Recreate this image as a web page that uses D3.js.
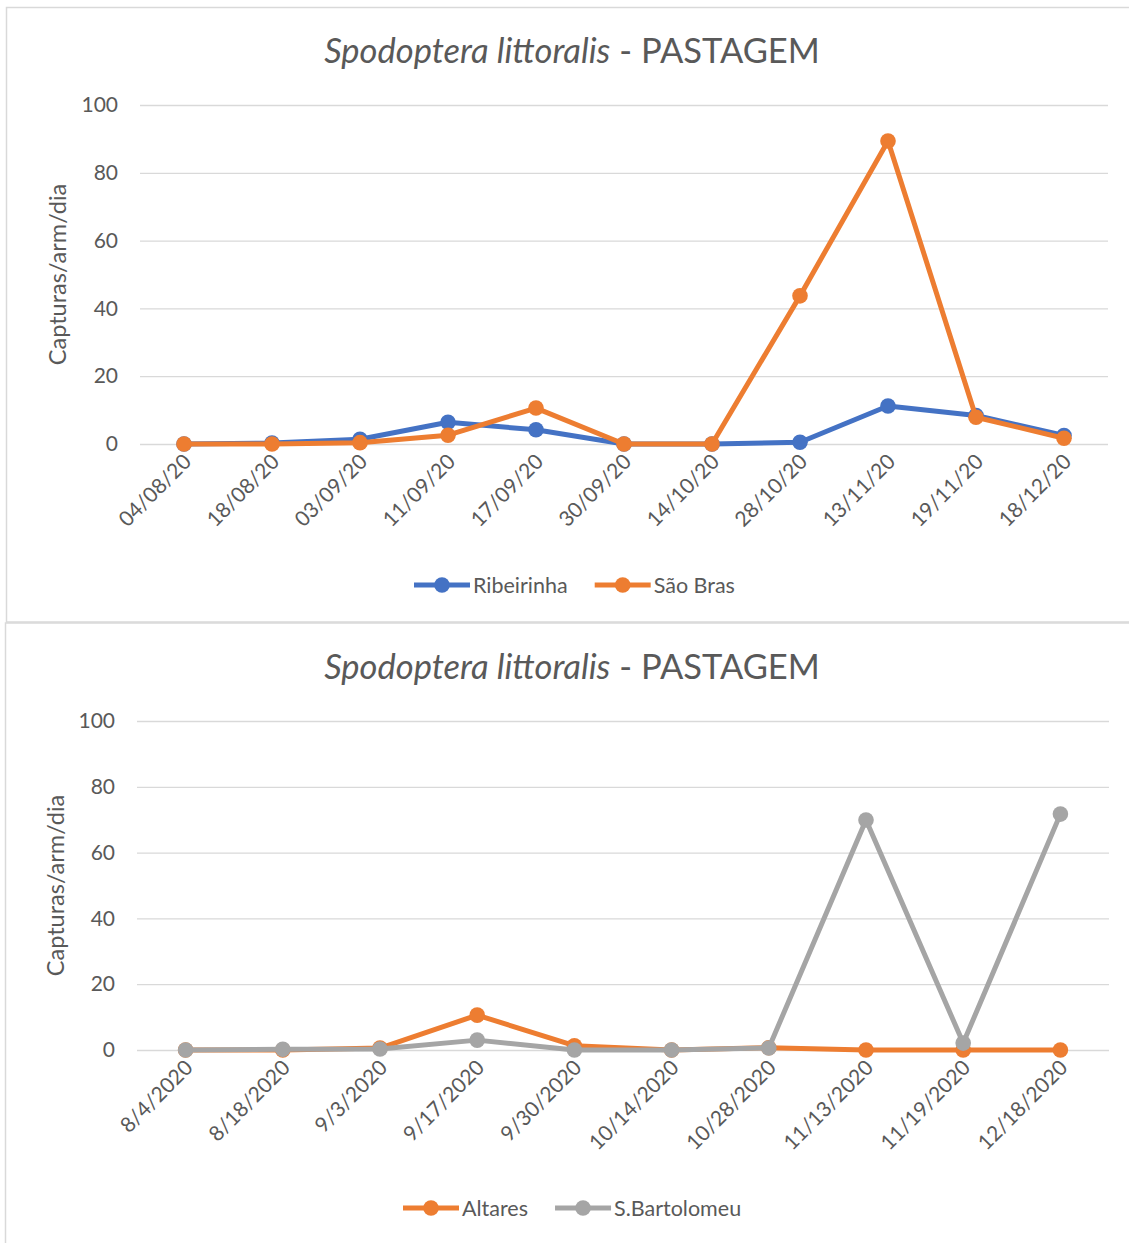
<!DOCTYPE html>
<html><head><meta charset="utf-8">
<script src="https://cdn.jsdelivr.net/npm/d3@7/dist/d3.min.js"></script>
<style>body{margin:0;background:#fff;}svg{display:block;font-family:Lato,"Open Sans",sans-serif;}</style>
</head><body>
<svg id="c" width="1129" height="1243"></svg>
<script>
const datesTop = ["04/08/20","18/08/20","03/09/20","11/09/20","17/09/20","30/09/20","14/10/20","28/10/20","13/11/20","19/11/20","18/12/20"];
const ribeirinha = [0, 0.3, 1.4, 6.4, 4.2, 0, 0, 0.5, 11.2, 8.4, 2.5];
const saoBras = [0, 0, 0.4, 2.6, 10.6, 0, 0, 43.7, 89.4, 7.9, 1.7];

const datesBottom = ["8/4/2020","8/18/2020","9/3/2020","9/17/2020","9/30/2020","10/14/2020","10/28/2020","11/13/2020","11/19/2020","12/18/2020"];
const altares = [0, 0, 0.6, 10.6, 1.3, 0, 0.7, 0, 0, 0];
const sBartolomeu = [0, 0.2, 0.3, 3.0, 0, 0, 0.6, 69.9, 2.1, 71.7];

const yTicks = [0, 20, 40, 60, 80, 100];

const svg = d3.select("#c");
const textCol = "#595959";
const FF = "Lato, 'Open Sans', sans-serif";

// frames
svg.append("rect").attr("x",6.5).attr("y",7.5).attr("width",1140).attr("height",614.5)
  .attr("fill","#fff").attr("stroke","#d9d9d9").attr("stroke-width",1.5);
svg.append("rect").attr("x",5.5).attr("y",623).attr("width",1140).attr("height",640)
  .attr("fill","#fff").attr("stroke","#d9d9d9").attr("stroke-width",1.5);

function drawChart(cfg){
  const g = svg.append("g");
  const x = d3.scalePoint().domain(cfg.cats).range([cfg.x0, cfg.x1]).padding(0.5);
  const y = d3.scaleLinear().domain([0,100]).range([cfg.yb, cfg.yt]);

  // title
  const t = g.append("text").attr("x", cfg.titleX).attr("y", cfg.titleY)
    .attr("text-anchor","middle").attr("font-size",34.5).attr("fill",textCol);
  t.append("tspan").attr("font-style","italic").text("Spodoptera littoralis");
  t.append("tspan").text(" - PASTAGEM");

  // grid
  const yAxis = d3.axisLeft(y).tickValues(yTicks).tickSize(-(cfg.x1-cfg.x0)).tickPadding(22);
  const ga = g.append("g").attr("transform",`translate(${cfg.x0},0)`).call(yAxis);
  ga.select(".domain").remove();
  ga.selectAll(".tick line").attr("stroke","#d9d9d9").attr("stroke-width",1.3);
  ga.selectAll(".tick text").attr("fill",textCol).attr("font-size",21).attr("font-family",FF);

  // y label
  g.append("text").attr("transform",`translate(${cfg.ylabX},${(cfg.yb+cfg.yt)/2}) rotate(-90)`)
    .attr("text-anchor","middle").attr("dy","0.35em").attr("font-size",23.5).attr("fill",textCol).text("Capturas/arm/dia");

  // x labels
  const xAxis = d3.axisBottom(x).tickSize(0).tickPadding(0);
  const gx = g.append("g").attr("transform",`translate(0,${cfg.yb})`).call(xAxis);
  gx.select(".domain").remove();
  gx.selectAll(".tick text").attr("fill",textCol).attr("font-size",21).attr("font-family",FF)
    .attr("text-anchor","end").attr("dy",0).attr("y",0)
    .attr("transform","translate(8,19) rotate(-45)");

  // series
  const line = d3.line().x((d,i)=>x(cfg.cats[i])).y(d=>y(d));
  cfg.series.forEach(s=>{
    g.append("path").datum(s.values).attr("d",line).attr("fill","none")
      .attr("stroke",s.color).attr("stroke-width",5).attr("stroke-linejoin","round").attr("stroke-linecap","round");
    g.selectAll(null).data(s.values).enter().append("circle")
      .attr("cx",(d,i)=>x(cfg.cats[i])).attr("cy",d=>y(d)).attr("r",7.8).attr("fill",s.color);
  });

  // legend
  const lg = g.append("g");
  let lx = cfg.legX;
  cfg.series.forEach(s=>{
    lg.append("line").attr("x1",lx).attr("x2",lx+56).attr("y1",cfg.legY).attr("y2",cfg.legY)
      .attr("stroke",s.color).attr("stroke-width",5);
    lg.append("circle").attr("cx",lx+28).attr("cy",cfg.legY).attr("r",7.8).attr("fill",s.color);
    const tx = lg.append("text").attr("x",lx+59).attr("y",cfg.legY).attr("dy","0.35em")
      .attr("font-size",21.5).attr("fill",textCol).text(s.name);
    lx = lx + 59 + tx.node().getComputedTextLength() + 27;
  });
}

drawChart({cats:datesTop, x0:140, x1:1108, yt:105, yb:444, titleX:572, titleY:63, ylabX:58,
  legX:414, legY:585,
  series:[{name:"Ribeirinha",values:ribeirinha,color:"#4472C4"},{name:"São Bras",values:saoBras,color:"#ED7D31"}]});

drawChart({cats:datesBottom, x0:137, x1:1109, yt:721, yb:1050, titleX:572, titleY:679, ylabX:56,
  legX:403, legY:1208,
  series:[{name:"Altares",values:altares,color:"#ED7D31"},{name:"S.Bartolomeu",values:sBartolomeu,color:"#A5A5A5"}]});
</script>
</body></html>
